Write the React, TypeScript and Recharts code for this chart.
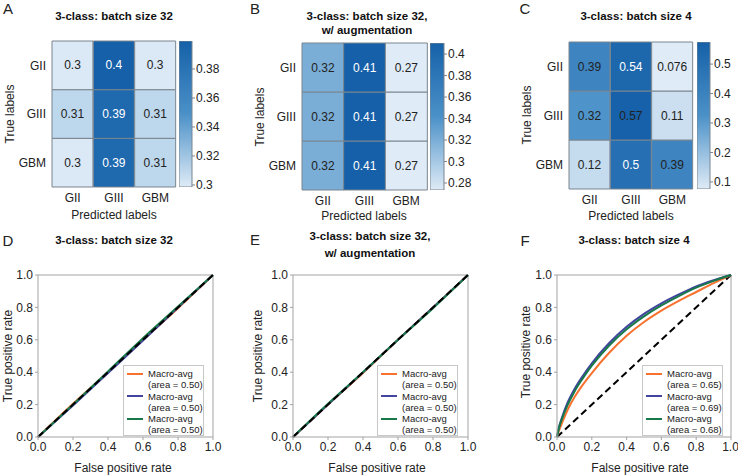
import {
  BarChart,
  Bar,
  XAxis,
  YAxis,
  Cell,
  LabelList,
  LineChart,
  Line,
  ReferenceLine,
  Legend,
} from "recharts";

// ---- data ----
const classes = ["GII", "GIII", "GBM"];

// confusion matrices, rows = true label, cols = predicted label
const cmA = [
  [0.3, 0.4, 0.3],
  [0.31, 0.39, 0.31],
  [0.3, 0.39, 0.31],
];
const cmB = [
  [0.32, 0.41, 0.27],
  [0.32, 0.41, 0.27],
  [0.32, 0.41, 0.27],
];
const cmC = [
  [0.39, 0.54, 0.076],
  [0.32, 0.57, 0.11],
  [0.12, 0.5, 0.39],
];

const rangeA = [0.2986, 0.3993];
const ticksA = [0.3, 0.32, 0.34, 0.36, 0.38];
const rangeB = [0.2735, 0.4103];
const ticksB = [0.28, 0.3, 0.32, 0.34, 0.36, 0.38, 0.4];
const rangeC = [0.076, 0.575];
const ticksC = [0.1, 0.2, 0.3, 0.4, 0.5];

// label colours in the cells (w = white, k = black)
const inkA = [["k", "w", "k"], ["k", "w", "k"], ["k", "w", "k"]];
const inkB = [["k", "w", "k"], ["k", "w", "k"], ["k", "w", "k"]];
const inkC = [["k", "w", "k"], ["k", "k", "k"], ["k", "w", "k"]];

// ROC curves
const fprD = [0, 0.2, 0.4, 0.6, 0.8, 1];
const tprD1 = [0, 0.205, 0.4, 0.6, 0.795, 1];
const tprD2 = [0, 0.195, 0.395, 0.595, 0.8, 1];
const tprD3 = [0, 0.2, 0.405, 0.61, 0.805, 1];
const aucD = [0.5, 0.5, 0.5];

const fprE = [0, 0.2, 0.4, 0.6, 0.8, 1];
const tprE1 = [0, 0.2, 0.395, 0.6, 0.8, 1];
const tprE2 = [0, 0.2, 0.4, 0.6, 0.8, 1];
const tprE3 = [0, 0.205, 0.4, 0.6, 0.795, 1];
const aucE = [0.5, 0.5, 0.5];

const fprF = [0, 0.01, 0.03, 0.06, 0.1, 0.15, 0.2, 0.3, 0.4, 0.5, 0.6, 0.7, 0.8, 0.9, 1];
const tprF1 = [0, 0.035, 0.09, 0.165, 0.245, 0.325, 0.395, 0.52, 0.625, 0.71, 0.78, 0.84, 0.895, 0.95, 1];
const tprF2 = [0, 0.055, 0.125, 0.21, 0.295, 0.38, 0.455, 0.58, 0.68, 0.76, 0.825, 0.88, 0.93, 0.968, 1];
const tprF3 = [0, 0.05, 0.115, 0.195, 0.28, 0.365, 0.44, 0.565, 0.665, 0.745, 0.812, 0.87, 0.922, 0.964, 1];
const aucF = [0.65, 0.69, 0.68];

const diag = [0, 1];
const rocTicks = [0, 0.2, 0.4, 0.6, 0.8, 1];

// ---- styles ----
const FONT = '"Liberation Sans", Arial, Helvetica, sans-serif';
const INK = "#222";
const GRIDLINE = "#7a858f";
const FRAME = "#a3a3a3";
const seriesColors = ["#f7722f", "#42449e", "#17784a"];

const LIGHT = [223, 235, 246];
const MID = [75, 145, 200];
const DARK = [21, 96, 168];

function mix(a: number[], b: number[], t: number) {
  const c = a.map((v, i) => Math.round(v + (b[i] - v) * t));
  return `rgb(${c[0]},${c[1]},${c[2]})`;
}
function blue(t: number) {
  const u = Math.max(0, Math.min(1, t));
  return u < 0.5 ? mix(LIGHT, MID, u * 2) : mix(MID, DARK, (u - 0.5) * 2);
}

const Txt = ({ x, y, size = 12, bold = false, rotate = false, children }: any) => (
  <div
    style={{
      position: "absolute",
      left: x,
      top: y,
      transform: `translate(-50%,-50%)${rotate ? " rotate(-90deg)" : ""}`,
      fontSize: size,
      fontWeight: bold ? 700 : 400,
      whiteSpace: "nowrap",
      lineHeight: 1.2,
      color: bold ? "#111" : INK,
    }}
  >
    {children}
  </div>
);

function Heatmap({ m, range, ink, left, top, width, height, margin }: any) {
  const data = classes.map((c, j) => ({
    col: c,
    GII: 1,
    GIII: 1,
    GBM: 1,
    vGII: m[0][j],
    vGIII: m[1][j],
    vGBM: m[2][j],
  }));
  const norm = (v: number) => (v - range[0]) / (range[1] - range[0]);
  return (
    <div style={{ position: "absolute", left, top }}>
      <BarChart width={width} height={height} data={data} margin={margin} barCategoryGap={0} barGap={0}>
        <XAxis
          dataKey="col"
          interval={0}
          axisLine={false}
          tickLine={false}
          tickSize={0}
          tickMargin={6}
          height={30}
          tick={{ fill: INK, fontSize: 12 }}
        />
        <YAxis
          type="number"
          domain={[0, 3]}
          ticks={[0.5, 1.5, 2.5]}
          tickFormatter={(v: number) => classes[2 - Math.floor(v)]}
          axisLine={false}
          tickLine={false}
          tickSize={0}
          tickMargin={6}
          width={40}
          tick={{ fill: INK, fontSize: 12 }}
        />
        {[2, 1, 0].map((r) => (
          <Bar key={r} dataKey={classes[r]} stackId="cm" isAnimationActive={false}>
            {data.map((_, j) => (
              <Cell key={j} fill={blue(norm(m[r][j]))} stroke={GRIDLINE} strokeWidth={1} />
            ))}
            <LabelList
              dataKey={"v" + classes[r]}
              content={(p: any) => (
                <text
                  x={p.x + p.width / 2}
                  y={p.y + p.height / 2}
                  textAnchor="middle"
                  dominantBaseline="central"
                  fontSize={12}
                  fill={ink[r][p.index] === "w" ? "#fff" : INK}
                >
                  {String(p.value)}
                </text>
              )}
            />
          </Bar>
        ))}
      </BarChart>
    </div>
  );
}

function ColorBar({ id, range, ticks, left, top, barWidth, height, margin }: any) {
  return (
    <div style={{ position: "absolute", left, top }}>
      <BarChart
        width={barWidth + 45}
        height={height}
        data={[{ k: "cb", span: range }]}
        margin={margin}
        barCategoryGap={0}
      >
        <defs>
          <linearGradient id={id} x1="0" y1="0" x2="0" y2="1">
            <stop offset="0%" stopColor={blue(1)} />
            <stop offset="50%" stopColor={blue(0.5)} />
            <stop offset="100%" stopColor={blue(0)} />
          </linearGradient>
        </defs>
        <XAxis dataKey="k" hide />
        <YAxis
          orientation="right"
          type="number"
          domain={range}
          ticks={ticks}
          allowDataOverflow
          axisLine={false}
          tickSize={3}
          tickMargin={1}
          tickLine={{ stroke: GRIDLINE }}
          width={45}
          tick={{ fill: INK, fontSize: 12 }}
        />
        <Bar dataKey="span" fill={`url(#${id})`} stroke={GRIDLINE} strokeWidth={1} isAnimationActive={false} />
      </BarChart>
    </div>
  );
}

const RocLegendBox = ({ aucs }: any) => (
  <div
    style={{
      width: 81,
      height: 71,
      boxSizing: "border-box",
      border: "1px solid #c8c8c8",
      background: "#fff",
      paddingTop: 2,
      fontFamily: FONT,
      fontSize: 9.5,
      lineHeight: "11px",
      color: INK,
    }}
  >
    {aucs.map((a: number, i: number) => (
      <div key={i} style={{ position: "relative", height: 22.5, paddingLeft: 24 }}>
        <span
          style={{ position: "absolute", left: 3, top: 4.5, width: 16, height: 2, background: seriesColors[i] }}
        />
        <div>Macro-avg</div>
        <div>(area = {a.toFixed(2)})</div>
      </div>
    ))}
  </div>
);

function Roc({ fpr, tprs, aucs, left, top, width, height, margin, legendLeft, dashedOnTop }: any) {
  const curves = tprs.map((t: number[]) => fpr.map((x: number, i: number) => ({ x, y: t[i] })));
  const diagData = diag.map((v) => ({ x: v, y: v }));
  const dashed = (
    <Line
      key="diag"
      data={diagData}
      dataKey="y"
      stroke="#000"
      strokeWidth={2}
      strokeDasharray="7 4"
      dot={false}
      legendType="none"
      isAnimationActive={false}
    />
  );
  return (
    <div style={{ position: "absolute", left, top }}>
      <LineChart width={width} height={height} margin={margin}>
        <XAxis
          type="number"
          dataKey="x"
          domain={[0, 1]}
          ticks={rocTicks}
          tickFormatter={(v: number) => v.toFixed(1)}
          stroke={FRAME}
          tickSize={3}
          tickMargin={2}
          height={20}
          tick={{ fill: INK, fontSize: 12 }}
        />
        <YAxis
          type="number"
          dataKey="y"
          domain={[0, 1]}
          ticks={rocTicks}
          tickFormatter={(v: number) => v.toFixed(1)}
          stroke={FRAME}
          tickSize={3}
          tickMargin={2}
          width={30}
          tick={{ fill: INK, fontSize: 12 }}
        />
        <ReferenceLine y={1} stroke={FRAME} />
        <ReferenceLine x={1} stroke={FRAME} />
        {!dashedOnTop && dashed}
        {curves.map((d: any, i: number) => (
          <Line
            key={i}
            data={d}
            dataKey="y"
            type="monotone"
            name={`Macro-avg (area = ${aucs[i].toFixed(2)})`}
            stroke={seriesColors[i]}
            strokeWidth={2}
            dot={false}
            isAnimationActive={false}
          />
        ))}
        {dashedOnTop && dashed}
        <Legend
          layout="vertical"
          align="center"
          verticalAlign="middle"
          wrapperStyle={{ left: legendLeft, top: 135, width: 81 }}
          content={() => <RocLegendBox aucs={aucs} />}
        />
      </LineChart>
    </div>
  );
}

export default function App() {
  return (
    <div
      style={{
        position: "absolute",
        left: 0,
        top: 0,
        width: 738,
        height: 475,
        background: "#fff",
        fontFamily: FONT,
        overflow: "hidden",
      }}
    >
      <Heatmap m={cmA} range={rangeA} ink={inkA} left={0} top={0} width={250} height={230}
        margin={{ top: 41, right: 74, bottom: 13, left: 12 }} />
      <ColorBar id="cbA" range={rangeA} ticks={ticksA} left={179} top={0} barWidth={13} height={230}
        margin={{ top: 41, right: 0, bottom: 43, left: 0 }} />

      <Heatmap m={cmB} range={rangeB} ink={inkB} left={245} top={0} width={250} height={230}
        margin={{ top: 43, right: 68, bottom: 10, left: 17 }} />
      <ColorBar id="cbB" range={rangeB} ticks={ticksB} left={430} top={0} barWidth={14} height={230}
        margin={{ top: 43, right: 0, bottom: 40, left: 0 }} />

      <Heatmap m={cmC} range={rangeC} ink={inkC} left={490} top={0} width={248} height={230}
        margin={{ top: 42, right: 45, bottom: 11, left: 39 }} />
      <ColorBar id="cbC" range={rangeC} ticks={ticksC} left={697} top={0} barWidth={13} height={230}
        margin={{ top: 42, right: 0, bottom: 41, left: 0 }} />

      <Roc fpr={fprD} tprs={[tprD1, tprD2, tprD3]} aucs={aucD} left={0} top={230} width={245} height={245}
        margin={{ top: 45, right: 32, bottom: 18, left: 8 }} legendLeft={123} dashedOnTop />
      <Roc fpr={fprE} tprs={[tprE1, tprE2, tprE3]} aucs={aucE} left={245} top={230} width={245} height={245}
        margin={{ top: 45, right: 22, bottom: 18, left: 18 }} legendLeft={132} dashedOnTop />
      <Roc fpr={fprF} tprs={[tprF1, tprF2, tprF3]} aucs={aucF} left={490} top={230} width={248} height={245}
        margin={{ top: 45, right: 7, bottom: 18, left: 37 }} legendLeft={152} />

      {/* panel letters */}
      <Txt x={8} y={9} size={15}>A</Txt>
      <Txt x={255} y={9} size={15}>B</Txt>
      <Txt x={525} y={9} size={15}>C</Txt>
      <Txt x={8} y={241} size={15}>D</Txt>
      <Txt x={255} y={240} size={15}>E</Txt>
      <Txt x={525} y={241} size={15}>F</Txt>

      {/* titles */}
      <Txt x={114} y={17} size={11.5} bold>3-class: batch size 32</Txt>
      <Txt x={367} y={17} size={11.5} bold>3-class: batch size 32,</Txt>
      <Txt x={367} y={31} size={11.5} bold>w/ augmentation</Txt>
      <Txt x={636} y={17} size={11.5} bold>3-class: batch size 4</Txt>
      <Txt x={114} y={241} size={11.5} bold>3-class: batch size 32</Txt>
      <Txt x={370} y={237} size={11.5} bold>3-class: batch size 32,</Txt>
      <Txt x={370} y={254} size={11.5} bold>w/ augmentation</Txt>
      <Txt x={634} y={241} size={11.5} bold>3-class: batch size 4</Txt>

      {/* heatmap axis titles */}
      <Txt x={10} y={114} rotate>True labels</Txt>
      <Txt x={114} y={215}>Predicted labels</Txt>
      <Txt x={260} y={117} rotate>True labels</Txt>
      <Txt x={364} y={216}>Predicted labels</Txt>
      <Txt x={527} y={115} rotate>True labels</Txt>
      <Txt x={631} y={216}>Predicted labels</Txt>

      {/* ROC axis titles */}
      <Txt x={8} y={356} rotate>True positive rate</Txt>
      <Txt x={123} y={468}>False positive rate</Txt>
      <Txt x={258} y={356} rotate>True positive rate</Txt>
      <Txt x={377} y={468}>False positive rate</Txt>
      <Txt x={526} y={352} rotate>True positive rate</Txt>
      <Txt x={640} y={468}>False positive rate</Txt>
    </div>
  );
}
